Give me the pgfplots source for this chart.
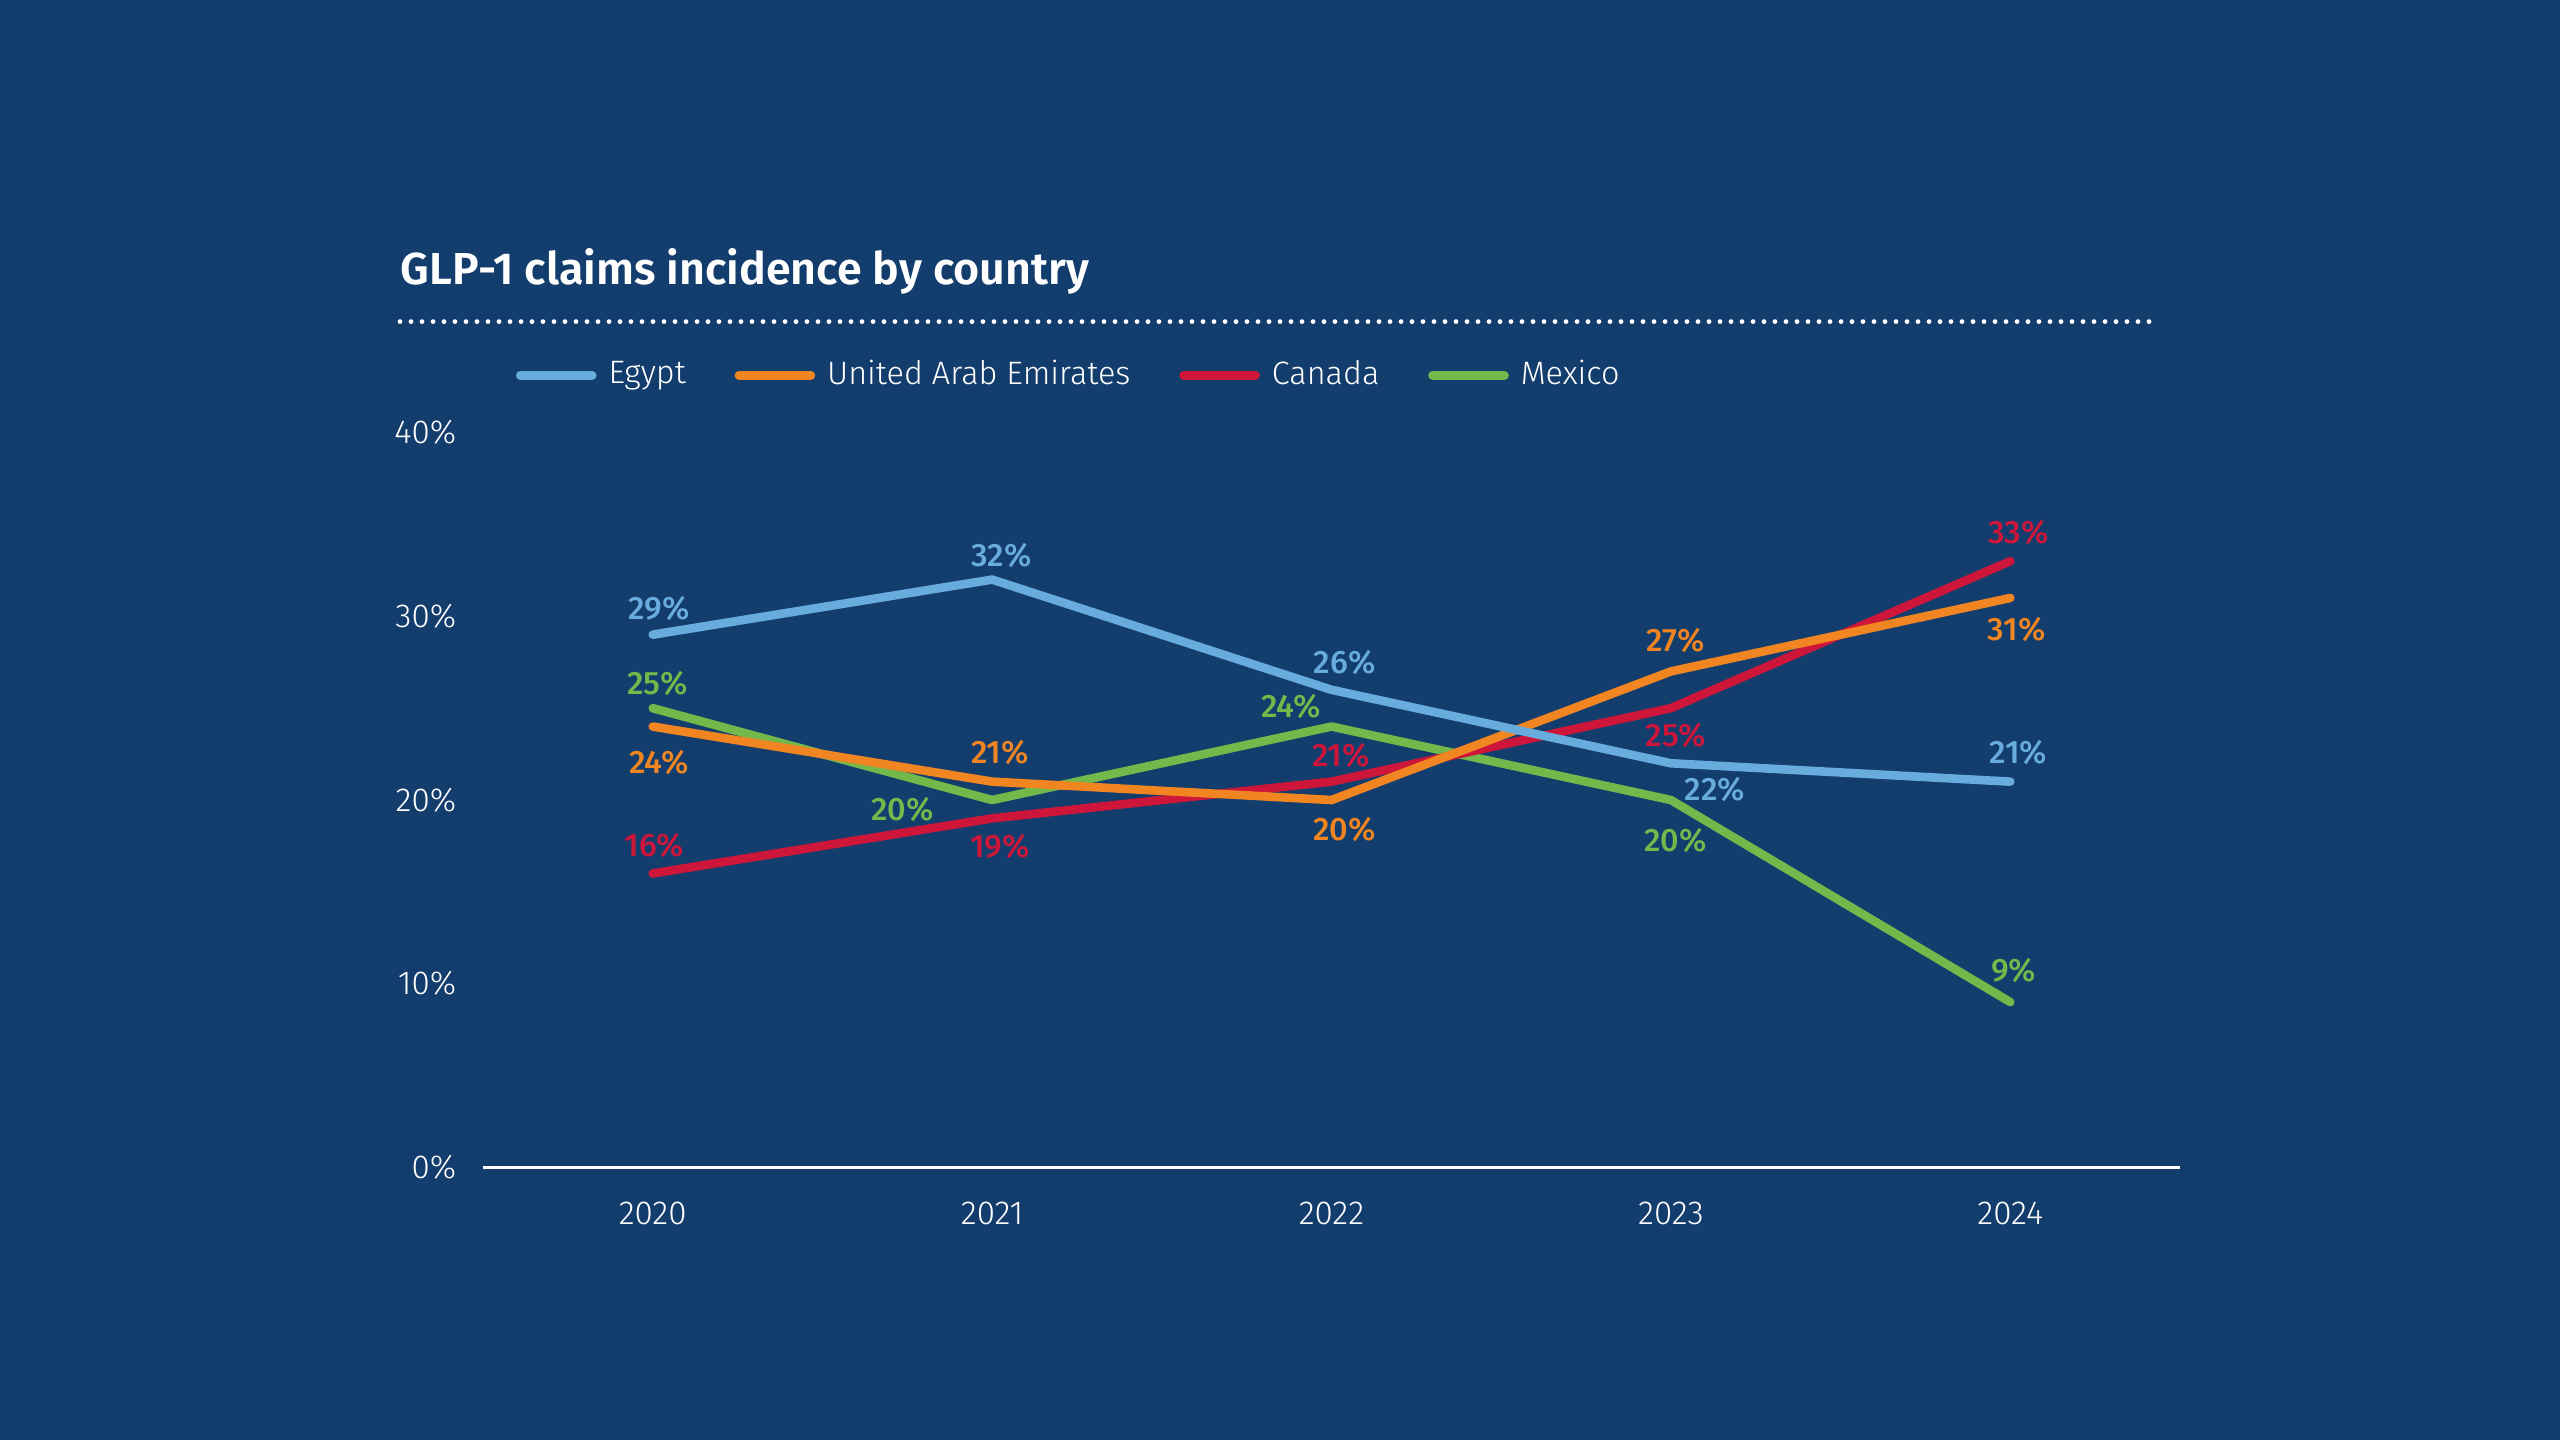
\documentclass[border=0pt]{standalone}
\usepackage{fontspec}
\setmainfont{Fira Sans}[UprightFont={* Light}, BoldFont={* SemiBold}]
\newfontfamily\medfont{Fira Sans Medium}
\usepackage{pgfplots}
\pgfplotsset{compat=1.18}
\usepackage{pgfplotstable}

\definecolor{bg}{RGB}{19,61,108}
\definecolor{egy}{RGB}{104,172,222}
\definecolor{uae}{RGB}{240,133,34}
\definecolor{can}{RGB}{206,22,58}
\definecolor{mex}{RGB}{114,184,74}

% year, share (%), label offset (pt)
\pgfplotstableread{
x y dx dy
2020 29 1.6 6.5
2021 32 2.4 6.1
2022 26 3.3 6.9
2023 22 11.0 -6.5
2024 21 2.0 7.3
}\egypt
\pgfplotstableread{
x y dx dy
2020 24 1.6 -9.0
2021 21 2.0 7.3
2022 20 3.3 -7.3
2023 27 1.2 7.8
2024 31 1.6 -7.8
}\uae
\pgfplotstableread{
x y dx dy
2020 16 0.4 6.9
2021 19 2.0 -6.9
2022 21 2.4 6.5
2023 25 1.2 -6.9
2024 33 2.0 7.3
}\canada
\pgfplotstableread{
x y dx dy
2020 25 1.2 6.1
2021 20 -22.4 -2.4
2022 24 -10.2 4.9
2023 20 1.2 -10.2
2024 9 0.8 7.8
}\mexico

\pgfplotsset{
  series/.style={
    color=#1, line width=2.15pt, line cap=round, line join=round, mark=none,
    point meta=y,
    nodes near coords={\pgfmathprintnumber{\pgfplotspointmeta}\%},
    visualization depends on={\thisrow{dx}\as\dx},
    visualization depends on={\thisrow{dy}\as\dy},
    every node near coord/.append style={
      anchor=center, inner sep=0pt, text=#1,
      font=\medfont\fontsize{8.1}{9}\selectfont,
      xshift=\dx pt, yshift=\dy pt},
  },
}

\begin{document}
\begin{tikzpicture}
\fill[bg] (0pt,0pt) rectangle (640pt,360pt);
\node[anchor=base west, inner sep=0pt, text=white,
      font=\bfseries\fontsize{11.2}{13}\selectfont] at (100pt,289pt)
  {GLP-1 claims incidence by country};
\draw[white, line width=1.2pt, line cap=round, dash pattern=on 0pt off 2.75pt]
  (100pt,279.6pt) -- (537.5pt,279.6pt);
\begin{axis}[
  at={(120.75pt,68.15pt)}, anchor=south west,
  scale only axis, width=424.25pt, height=183.7pt,
  xmin=2019.5, xmax=2024.5, ymin=0, ymax=40,
  axis x line=bottom, axis y line=left,
  axis line style={-},
  x axis line style={white, line width=0.75pt},
  y axis line style={draw=none},
  xtick={2020,2021,2022,2023,2024},
  xticklabels={2020,2021,2022,2023,2024},
  ytick={0,10,20,30,40},
  yticklabels={0\%,10\%,20\%,30\%,40\%},
  major tick length=0pt,
  tick label style={text=white, inner sep=0pt, font=\fontsize{8.3}{9}\selectfont},
  xticklabel style={anchor=center, yshift=-11.4pt},
  yticklabel style={anchor=east, xshift=-6.5pt},
  /pgf/number format/assume math mode=true,
  clip=false,
  reverse legend,
  legend columns=4,
  legend image code/.code={\draw[#1, line width=2.15pt, line cap=round] (0pt,0pt) -- (18pt,0pt);},
  legend style={
    at={(0.0194,1.078)}, anchor=west,
    draw=none, fill=none, inner sep=0pt, outer sep=0pt,
    font=\fontsize{8.1}{9}\selectfont, text=white,
    nodes={inner sep=0pt},
    /tikz/every odd column/.append style={column sep=3pt},
    /tikz/every even column/.append style={column sep=12.2pt},
  },
]
\addplot[series=mex] table[x=x, y=y] {\mexico};
\addlegendentry{Mexico}
\addplot[series=can] table[x=x, y=y] {\canada};
\addlegendentry{Canada}
\addplot[series=uae] table[x=x, y=y] {\uae};
\addlegendentry{United Arab Emirates}
\addplot[series=egy] table[x=x, y=y] {\egypt};
\addlegendentry{Egypt}
\end{axis}
\pgfresetboundingbox
\path[use as bounding box] (0pt,0pt) rectangle (640pt,360pt);
\end{tikzpicture}
\end{document}
